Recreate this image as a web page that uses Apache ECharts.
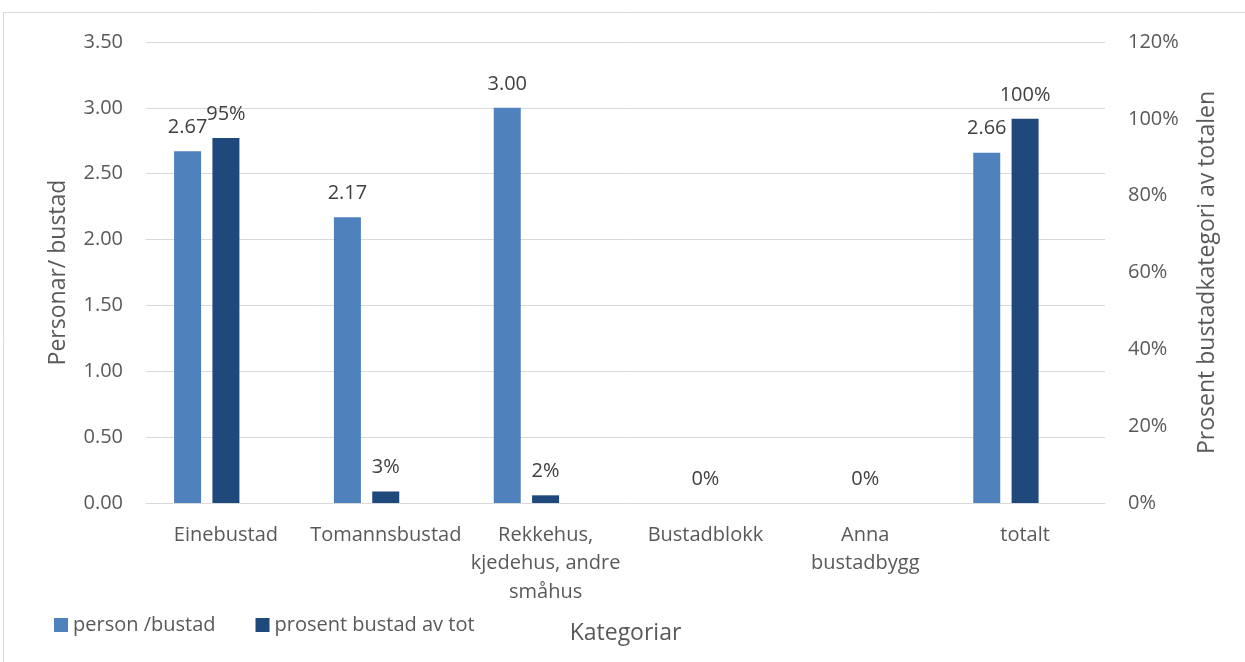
<!DOCTYPE html>
<html>
<head>
<meta charset="utf-8">
<script src="https://cdn.jsdelivr.net/npm/echarts@6/dist/echarts.min.js"></script>
<style>
  html, body { margin: 0; padding: 0; background: #fff; }
  #chart { width: 1245px; height: 662px; }
</style>
</head>
<body>
<div id="chart"></div>
<script>
// Bustadkategoriar og verdiar
const categories = ['Einebustad', 'Tomannsbustad', 'Rekkehus,\nkjedehus, andre\nsmåhus', 'Bustadblokk', 'Anna\nbustadbygg', 'totalt'];
const personPerBustad = [2.67, 2.17, 3.00, null, null, 2.66];
const prosentAvTotal = [0.95, 0.03, 0.02, 0, 0, 1.00];
// tom serie som held av plass for ein tredje stolpe i kvar kategori
const tomSerie = [null, null, null, null, null, null];
const leftTicks = { min: 0, max: 3.5, interval: 0.5 };
const rightTicks = { min: 0, max: 1.2, interval: 0.2 };

const FONT = '"Open Sans", "Liberation Sans", sans-serif';
const TXT = '#595959';

const chart = echarts.init(document.getElementById('chart'), null, { renderer: 'canvas' });

chart.setOption({
  backgroundColor: '#ffffff',
  animation: false,
  textStyle: { fontFamily: FONT },
  graphic: [{
    type: 'rect',
    shape: { x: 3.5, y: 12.5, width: 1300, height: 700 },
    style: { fill: 'none', stroke: '#d9d9d9', lineWidth: 1 },
    silent: true
  }],
  grid: { left: 146, right: 140, top: 42, bottom: 159 },
  legend: {
    left: 49, top: 610,
    itemWidth: 14, itemHeight: 14, itemGap: 40,
    icon: 'rect',
    textStyle: { fontSize: 20, color: TXT, fontFamily: FONT },
    data: ['person /bustad', 'prosent bustad av tot']
  },
  xAxis: {
    type: 'category',
    data: categories,
    name: 'Kategoriar',
    nameLocation: 'middle',
    nameGap: 119,
    nameTextStyle: { fontSize: 23, color: TXT, fontFamily: FONT },
    axisLine: { lineStyle: { color: '#d9d9d9' } },
    axisTick: { show: false },
    axisLabel: { fontSize: 20, color: TXT, lineHeight: 28.5, margin: 18, fontFamily: FONT, interval: 0 }
  },
  yAxis: [{
    type: 'value',
    min: leftTicks.min, max: leftTicks.max, interval: leftTicks.interval,
    name: 'Personar/ bustad',
    nameLocation: 'middle',
    nameGap: 76,
    nameTextStyle: { fontSize: 23, color: TXT, fontFamily: FONT },
    axisLabel: { fontSize: 20, color: TXT, margin: 23, fontFamily: FONT, formatter: v => v.toFixed(2) },
    axisLine: { show: false },
    axisTick: { show: false },
    splitLine: { lineStyle: { color: '#d9d9d9' } }
  }, {
    type: 'value',
    min: rightTicks.min, max: rightTicks.max, interval: rightTicks.interval,
    name: 'Prosent bustadkategori av totalen',
    nameLocation: 'middle',
    nameGap: 91,
    nameRotate: 90,
    nameTextStyle: { fontSize: 23, color: TXT, fontFamily: FONT },
    axisLabel: { fontSize: 20, color: TXT, margin: 23, fontFamily: FONT, formatter: v => Math.round(v * 100) + '%' },
    axisLine: { show: false },
    axisTick: { show: false },
    splitLine: { show: false }
  }],
  series: [{
    name: 'person /bustad',
    type: 'bar',
    yAxisIndex: 0,
    data: personPerBustad,
    barWidth: 27,
    barGap: '42%',
    itemStyle: { color: '#4f81bd' },
    label: {
      show: true, position: 'top', distance: 14,
      fontSize: 20, color: '#404040', fontFamily: FONT,
      formatter: p => p.value == null ? '' : p.value.toFixed(2)
    }
  }, {
    name: 'prosent bustad av tot',
    type: 'bar',
    yAxisIndex: 1,
    data: prosentAvTotal,
    barWidth: 27,
    barGap: '42%',
    itemStyle: { color: '#1f497d' },
    label: {
      show: true, position: 'top', distance: 14,
      fontSize: 20, color: '#404040', fontFamily: FONT,
      formatter: p => Math.round(p.value * 100) + '%'
    }
  }, {
    name: 'tom',
    type: 'bar',
    yAxisIndex: 0,
    data: tomSerie,
    barWidth: 27,
    barGap: '42%',
    silent: true
  }]
});
</script>
</body>
</html>
